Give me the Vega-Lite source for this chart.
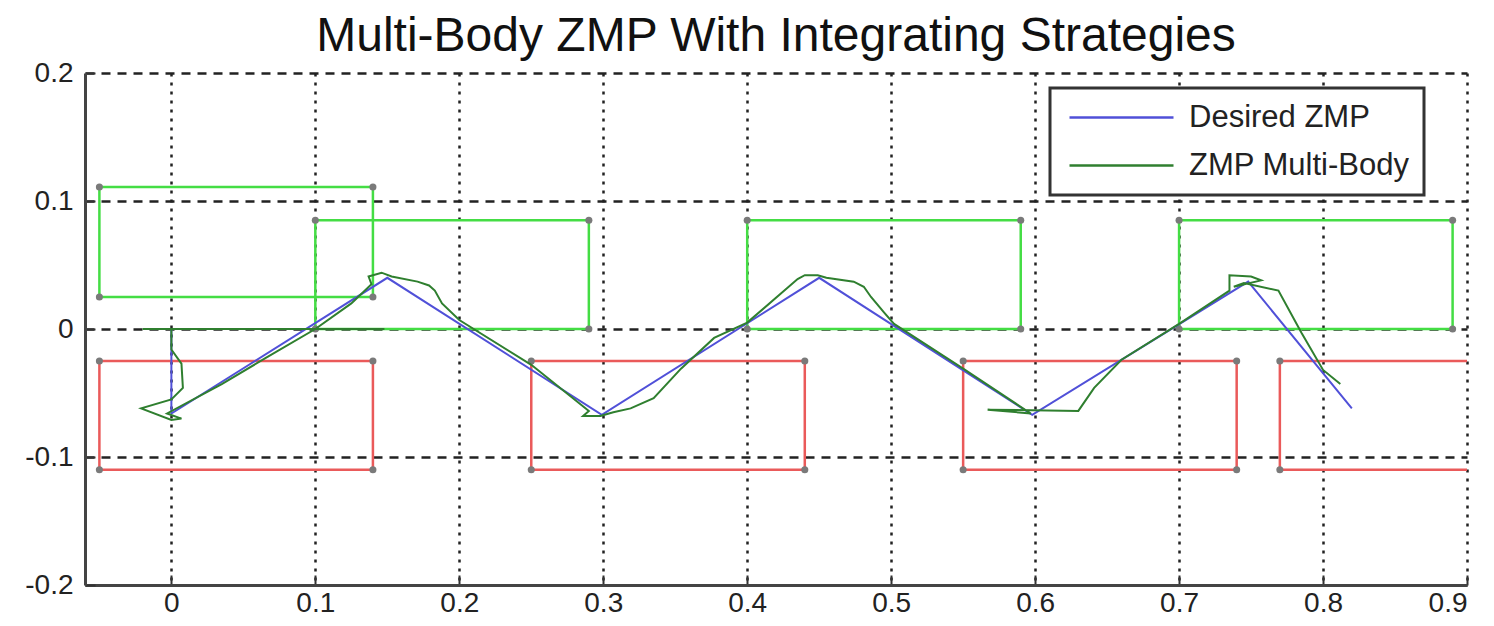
{
  "$schema": "https://vega.github.io/schema/vega-lite/v6.json",
  "width": 1382,
  "height": 512,
  "autosize": {"type": "none"},
  "padding": {"left": 85, "top": 73, "right": 27, "bottom": 41},
  "background": "white",
  "title": {"text": "Multi-Body ZMP With Integrating Strategies", "fontSize": 48, "font": "Liberation Sans", "fontWeight": "normal", "color": "#111", "offset": -2, "anchor": "middle"},
  "datasets": {
    "feet": [
      {"foot": "left", "x": -0.05, "x2": 0.14, "y": 0.025, "y2": 0.111},
      {"foot": "left", "x": 0.1, "x2": 0.29, "y": 0.0, "y2": 0.085},
      {"foot": "left", "x": 0.4, "x2": 0.59, "y": 0.0, "y2": 0.085},
      {"foot": "left", "x": 0.7, "x2": 0.89, "y": 0.0, "y2": 0.085},
      {"foot": "right", "x": -0.05, "x2": 0.14, "y": -0.11, "y2": -0.025},
      {"foot": "right", "x": 0.25, "x2": 0.44, "y": -0.11, "y2": -0.025},
      {"foot": "right", "x": 0.55, "x2": 0.74, "y": -0.11, "y2": -0.025},
      {"foot": "right", "x": 0.77, "x2": 0.96, "y": -0.11, "y2": -0.025}
    ],
    "corners": [
      {"x": -0.05, "y": 0.025}, {"x": -0.05, "y": 0.111}, {"x": 0.14, "y": 0.025}, {"x": 0.14, "y": 0.111},
      {"x": 0.1, "y": 0.0}, {"x": 0.1, "y": 0.085}, {"x": 0.29, "y": 0.0}, {"x": 0.29, "y": 0.085},
      {"x": 0.4, "y": 0.0}, {"x": 0.4, "y": 0.085}, {"x": 0.59, "y": 0.0}, {"x": 0.59, "y": 0.085},
      {"x": 0.7, "y": 0.0}, {"x": 0.7, "y": 0.085}, {"x": 0.89, "y": 0.0}, {"x": 0.89, "y": 0.085},
      {"x": -0.05, "y": -0.11}, {"x": -0.05, "y": -0.025}, {"x": 0.14, "y": -0.11}, {"x": 0.14, "y": -0.025},
      {"x": 0.25, "y": -0.11}, {"x": 0.25, "y": -0.025}, {"x": 0.44, "y": -0.11}, {"x": 0.44, "y": -0.025},
      {"x": 0.55, "y": -0.11}, {"x": 0.55, "y": -0.025}, {"x": 0.74, "y": -0.11}, {"x": 0.74, "y": -0.025},
      {"x": 0.77, "y": -0.11}, {"x": 0.77, "y": -0.025}
    ],
    "zmp": [
      {"series": "Desired ZMP", "seg": "d", "i": 0, "x": 0.0, "y": 0.0},
      {"series": "Desired ZMP", "seg": "d", "i": 1, "x": 0.0, "y": -0.066},
      {"series": "Desired ZMP", "seg": "d", "i": 2, "x": 0.15, "y": 0.04},
      {"series": "Desired ZMP", "seg": "d", "i": 3, "x": 0.299, "y": -0.067},
      {"series": "Desired ZMP", "seg": "d", "i": 4, "x": 0.45, "y": 0.04},
      {"series": "Desired ZMP", "seg": "d", "i": 5, "x": 0.598, "y": -0.067},
      {"series": "Desired ZMP", "seg": "d", "i": 6, "x": 0.748, "y": 0.037},
      {"series": "Desired ZMP", "seg": "d", "i": 7, "x": 0.82, "y": -0.062},
      {"series": "ZMP Multi-Body", "seg": "g0", "i": 0, "x": -0.02, "y": 0.0},
      {"series": "ZMP Multi-Body", "seg": "g0", "i": 1, "x": 0.148, "y": 0.0},
      {"series": "ZMP Multi-Body", "seg": "g1", "i": 0, "x": 0.0, "y": 0.0},
      {"series": "ZMP Multi-Body", "seg": "g1", "i": 1, "x": 0.0, "y": -0.016},
      {"series": "ZMP Multi-Body", "seg": "g1", "i": 2, "x": 0.007, "y": -0.027},
      {"series": "ZMP Multi-Body", "seg": "g1", "i": 3, "x": 0.008, "y": -0.046},
      {"series": "ZMP Multi-Body", "seg": "g1", "i": 4, "x": 0.0, "y": -0.055},
      {"series": "ZMP Multi-Body", "seg": "g1", "i": 5, "x": -0.021, "y": -0.062},
      {"series": "ZMP Multi-Body", "seg": "g1", "i": 6, "x": 0.0, "y": -0.071},
      {"series": "ZMP Multi-Body", "seg": "g1", "i": 7, "x": 0.007, "y": -0.07},
      {"series": "ZMP Multi-Body", "seg": "g1", "i": 8, "x": -0.003, "y": -0.066},
      {"series": "ZMP Multi-Body", "seg": "g1", "i": 9, "x": 0.035, "y": -0.043},
      {"series": "ZMP Multi-Body", "seg": "g1", "i": 10, "x": 0.065, "y": -0.023},
      {"series": "ZMP Multi-Body", "seg": "g1", "i": 11, "x": 0.1, "y": 0.0},
      {"series": "ZMP Multi-Body", "seg": "g1", "i": 12, "x": 0.125, "y": 0.02},
      {"series": "ZMP Multi-Body", "seg": "g1", "i": 13, "x": 0.139, "y": 0.035},
      {"series": "ZMP Multi-Body", "seg": "g1", "i": 14, "x": 0.137, "y": 0.041},
      {"series": "ZMP Multi-Body", "seg": "g1", "i": 15, "x": 0.146, "y": 0.044},
      {"series": "ZMP Multi-Body", "seg": "g1", "i": 16, "x": 0.153, "y": 0.041},
      {"series": "ZMP Multi-Body", "seg": "g1", "i": 17, "x": 0.171, "y": 0.037},
      {"series": "ZMP Multi-Body", "seg": "g1", "i": 18, "x": 0.179, "y": 0.034},
      {"series": "ZMP Multi-Body", "seg": "g1", "i": 19, "x": 0.183, "y": 0.03},
      {"series": "ZMP Multi-Body", "seg": "g1", "i": 20, "x": 0.188, "y": 0.02},
      {"series": "ZMP Multi-Body", "seg": "g1", "i": 21, "x": 0.2, "y": 0.007},
      {"series": "ZMP Multi-Body", "seg": "g1", "i": 22, "x": 0.25, "y": -0.028},
      {"series": "ZMP Multi-Body", "seg": "g1", "i": 23, "x": 0.29, "y": -0.064},
      {"series": "ZMP Multi-Body", "seg": "g1", "i": 24, "x": 0.286, "y": -0.068},
      {"series": "ZMP Multi-Body", "seg": "g1", "i": 25, "x": 0.298, "y": -0.068},
      {"series": "ZMP Multi-Body", "seg": "g1", "i": 26, "x": 0.307, "y": -0.065},
      {"series": "ZMP Multi-Body", "seg": "g1", "i": 27, "x": 0.319, "y": -0.062},
      {"series": "ZMP Multi-Body", "seg": "g1", "i": 28, "x": 0.335, "y": -0.054},
      {"series": "ZMP Multi-Body", "seg": "g1", "i": 29, "x": 0.354, "y": -0.031},
      {"series": "ZMP Multi-Body", "seg": "g1", "i": 30, "x": 0.377, "y": -0.007},
      {"series": "ZMP Multi-Body", "seg": "g1", "i": 31, "x": 0.4, "y": 0.005},
      {"series": "ZMP Multi-Body", "seg": "g1", "i": 32, "x": 0.435, "y": 0.039},
      {"series": "ZMP Multi-Body", "seg": "g1", "i": 33, "x": 0.44, "y": 0.042},
      {"series": "ZMP Multi-Body", "seg": "g1", "i": 34, "x": 0.449, "y": 0.042},
      {"series": "ZMP Multi-Body", "seg": "g1", "i": 35, "x": 0.455, "y": 0.04},
      {"series": "ZMP Multi-Body", "seg": "g1", "i": 36, "x": 0.474, "y": 0.037},
      {"series": "ZMP Multi-Body", "seg": "g1", "i": 37, "x": 0.481, "y": 0.033},
      {"series": "ZMP Multi-Body", "seg": "g1", "i": 38, "x": 0.486, "y": 0.025},
      {"series": "ZMP Multi-Body", "seg": "g1", "i": 39, "x": 0.495, "y": 0.013},
      {"series": "ZMP Multi-Body", "seg": "g1", "i": 40, "x": 0.502, "y": 0.004},
      {"series": "ZMP Multi-Body", "seg": "g1", "i": 41, "x": 0.55, "y": -0.031},
      {"series": "ZMP Multi-Body", "seg": "g1", "i": 42, "x": 0.597, "y": -0.066},
      {"series": "ZMP Multi-Body", "seg": "g1", "i": 43, "x": 0.567, "y": -0.063},
      {"series": "ZMP Multi-Body", "seg": "g1", "i": 44, "x": 0.63, "y": -0.064},
      {"series": "ZMP Multi-Body", "seg": "g1", "i": 45, "x": 0.641, "y": -0.046},
      {"series": "ZMP Multi-Body", "seg": "g1", "i": 46, "x": 0.66, "y": -0.024},
      {"series": "ZMP Multi-Body", "seg": "g1", "i": 47, "x": 0.7, "y": 0.004},
      {"series": "ZMP Multi-Body", "seg": "g1", "i": 48, "x": 0.735, "y": 0.03},
      {"series": "ZMP Multi-Body", "seg": "g1", "i": 49, "x": 0.735, "y": 0.042},
      {"series": "ZMP Multi-Body", "seg": "g1", "i": 50, "x": 0.75, "y": 0.041},
      {"series": "ZMP Multi-Body", "seg": "g1", "i": 51, "x": 0.757, "y": 0.038},
      {"series": "ZMP Multi-Body", "seg": "g1", "i": 52, "x": 0.738, "y": 0.033},
      {"series": "ZMP Multi-Body", "seg": "g1", "i": 53, "x": 0.745, "y": 0.036},
      {"series": "ZMP Multi-Body", "seg": "g1", "i": 54, "x": 0.769, "y": 0.03},
      {"series": "ZMP Multi-Body", "seg": "g1", "i": 55, "x": 0.785, "y": -0.003},
      {"series": "ZMP Multi-Body", "seg": "g1", "i": 56, "x": 0.8, "y": -0.032},
      {"series": "ZMP Multi-Body", "seg": "g1", "i": 57, "x": 0.812, "y": -0.043}
    ]
  },
  "layer": [
    {
      "data": {"name": "feet"},
      "mark": {"type": "rect", "fillOpacity": 0, "strokeWidth": 2.5, "clip": true},
      "encoding": {
        "x": {"field": "x", "type": "quantitative", "scale": {"domain": [-0.06, 0.9], "nice": false, "zero": false},
          "axis": {"values": [0, 0.1, 0.2, 0.3, 0.4, 0.5, 0.6, 0.7, 0.8, 0.9], "gridDash": [3, 6], "labelPadding": 14}},
        "x2": {"field": "x2"},
        "y": {"field": "y", "type": "quantitative", "scale": {"domain": [-0.2, 0.2], "nice": false, "zero": false},
          "axis": {"values": [-0.2, -0.1, 0, 0.1, 0.2], "gridDash": [9, 7], "labelPadding": 22}},
        "y2": {"field": "y2"},
        "stroke": {"field": "foot", "type": "nominal", "scale": {"domain": ["left", "right"], "range": ["#44dd44", "#ea5a5a"]}, "legend": null}
      }
    },
    {
      "data": {"name": "corners"},
      "mark": {"type": "point", "filled": true, "size": 50, "color": "#7a7a7a", "opacity": 1},
      "encoding": {
        "x": {"field": "x", "type": "quantitative"},
        "y": {"field": "y", "type": "quantitative"}
      }
    },
    {
      "data": {"name": "zmp"},
      "mark": {"type": "line", "strokeWidth": 2, "clip": true},
      "encoding": {
        "x": {"field": "x", "type": "quantitative"},
        "y": {"field": "y", "type": "quantitative"},
        "detail": {"field": "seg", "type": "nominal"},
        "order": {"field": "i", "type": "quantitative"},
        "color": {
          "field": "series", "type": "nominal",
          "scale": {"domain": ["Desired ZMP", "ZMP Multi-Body"], "range": ["#5050d8", "#2f7f2f"]},
          "legend": {
            "orient": "none", "legendX": 965, "legendY": 15, "title": null,
            "symbolType": "M-4,0H4", "symbolSize": 676, "symbolStrokeWidth": 2.5, "symbolOffset": 42,
            "labelFontSize": 31, "labelFont": "Liberation Sans", "labelColor": "#222", "labelLimit": 500,
            "padding": 14, "rowPadding": 16, "labelOffset": 52,
            "strokeColor": "#333", "fillColor": "white"
          }
        }
      }
    }
  ],
  "config": {
    "view": {"stroke": null},
    "legend": {"strokeWidth": 3},
    "axis": {"title": null, "grid": true, "gridColor": "#222", "gridOpacity": 1, "gridWidth": 2.5,
      "domainColor": "#444", "domainWidth": 3, "tickColor": "#333", "tickWidth": 2, "tickSize": -10,
      "labelFont": "Liberation Sans", "labelFontSize": 28, "labelColor": "#222", "labelExpr": "'' + datum.value"}
  }
}
